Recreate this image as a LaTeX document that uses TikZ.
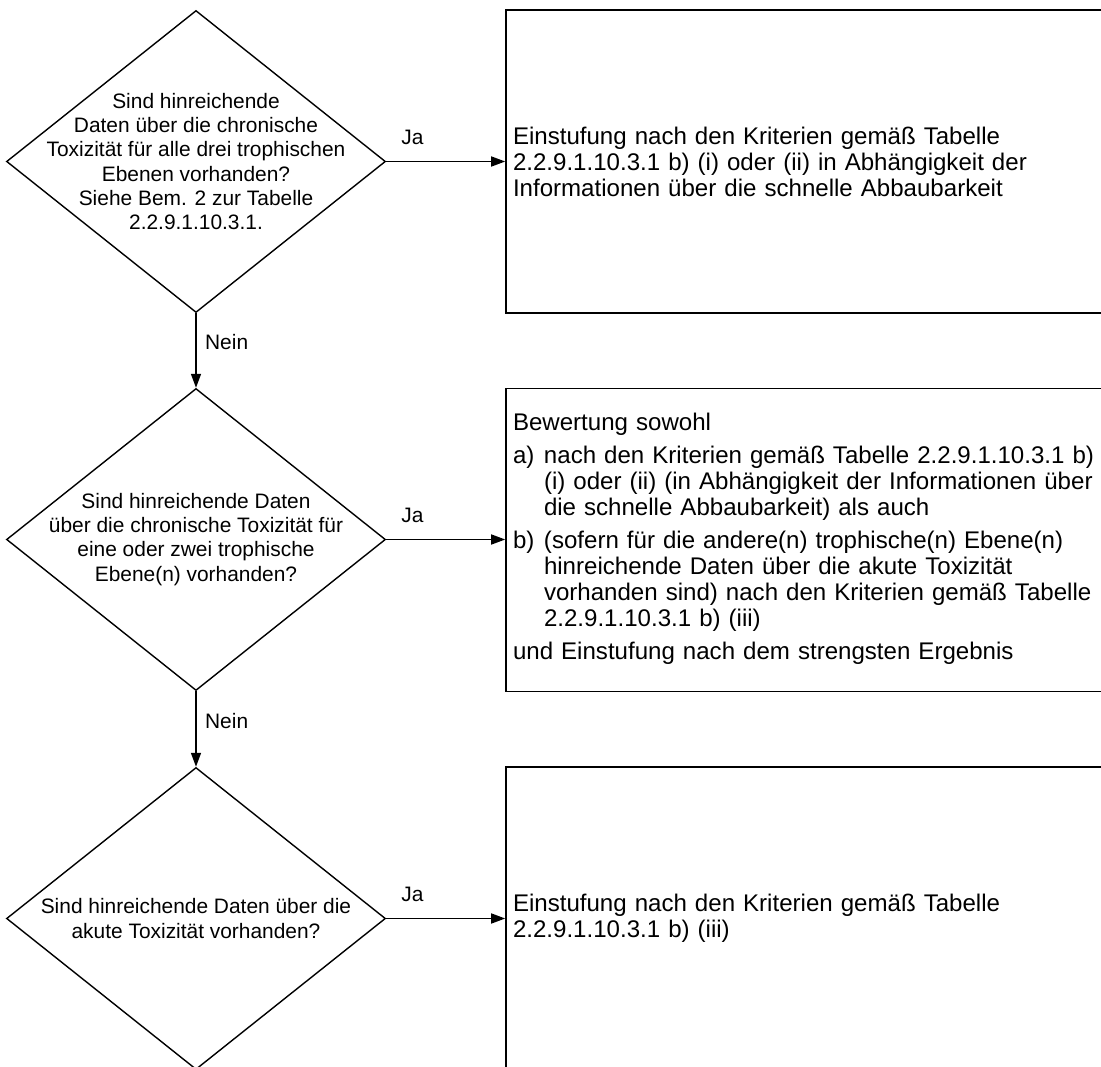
\documentclass[tikz,border=0pt]{standalone}
\usepackage{fontspec}
\setmainfont{Liberation Sans}
\usetikzlibrary{arrows.meta, shapes.geometric, positioning}

\begin{document}
\begin{tikzpicture}[>={Triangle[length=0.28cm,width=0.2cm]},
  font=\fontsize{11.9}{13.7}\selectfont,
  decision/.style={draw, diamond, line width=0.8pt, minimum width=7.58cm, minimum height=6.04cm, inner sep=0pt},
  question/.style={align=center, inner sep=0pt},
  result/.style={draw, rectangle, line width=0.9pt, minimum height=6.06cm, text width=11.9cm,
    inner xsep=0.14cm, align=left, font=\fontsize{13.7}{14.8}\selectfont},
  link/.style={->, line width=0.9pt}]

  % Page frame
  \useasboundingbox (0,0) rectangle (22.02,21.32);

  % Key coordinates of the three rows
  \coordinate (Q1) at (3.92, 18.09);
  \coordinate (Q2) at (3.92, 10.53);
  \coordinate (Q3) at (3.92, 2.95);

  % Decision diamonds
  \node[decision] (d1) at (Q1) {};
  \node[decision] (d2) at (Q2) {};
  \node[decision] (d3) at (Q3) {};
  \node[question] (q1) at (d1) {Sind hinreichende\\Daten über die chronische\\Toxizität für alle drei trophischen\\Ebenen vorhanden?\\Siehe Bem. 2 zur Tabelle\\2.2.9.1.10.3.1.};
  \node[question] (q2) at (d2) {Sind hinreichende Daten\\über die chronische Toxizität für\\eine oder zwei trophische\\Ebene(n) vorhanden?};
  \node[question] (q3) at (d3) {Sind hinreichende Daten über die\\akute Toxizität vorhanden?};

  % Result boxes (they run past the right edge)
  \node[result] (r1) at (16.21, 18.09) {Einstufung nach den Kriterien gemäß Tabelle\\2.2.9.1.10.3.1 b) (i) oder (ii) in Abhängigkeit der\\Informationen über die schnelle Abbaubarkeit};
  \node[result] (r2) at (16.21, 10.52) {%
    \begin{tabular}{@{}p{0.62cm}@{}l@{}}
      \multicolumn{2}{@{}l@{}}{Bewertung sowohl}\\[4pt]
      a) & nach den Kriterien gemäß Tabelle 2.2.9.1.10.3.1 b)\\
         & (i) oder (ii) (in Abhängigkeit der Informationen über\\
         & die schnelle Abbaubarkeit) als auch\\[4pt]
      b) & (sofern für die andere(n) trophische(n) Ebene(n)\\
         & hinreichende Daten über die akute Toxizität\\
         & vorhanden sind) nach den Kriterien gemäß Tabelle\\
         & 2.2.9.1.10.3.1 b) (iii)\\[4pt]
      \multicolumn{2}{@{}l@{}}{und Einstufung nach dem strengsten Ergebnis}
    \end{tabular}};
  \node[result] (r3) at (16.21, 2.95) {Einstufung nach den Kriterien gemäß Tabelle\\2.2.9.1.10.3.1 b) (iii)};

  % Yes branches
  \foreach \i in {1,2,3} {
    \draw[link] (d\i.east) -- node[pos=0.22, above=0.2cm] (ja\i) {Ja} (d\i.east -| r\i.west);
  }
  % No branches
  \foreach \i/\j in {1/2, 2/3} {
    \draw[link] (d\i.south) -- node[pos=0.39, right=0.05cm] (nein\i) {Nein} (d\j.north);
  }
\end{tikzpicture}
\end{document}
